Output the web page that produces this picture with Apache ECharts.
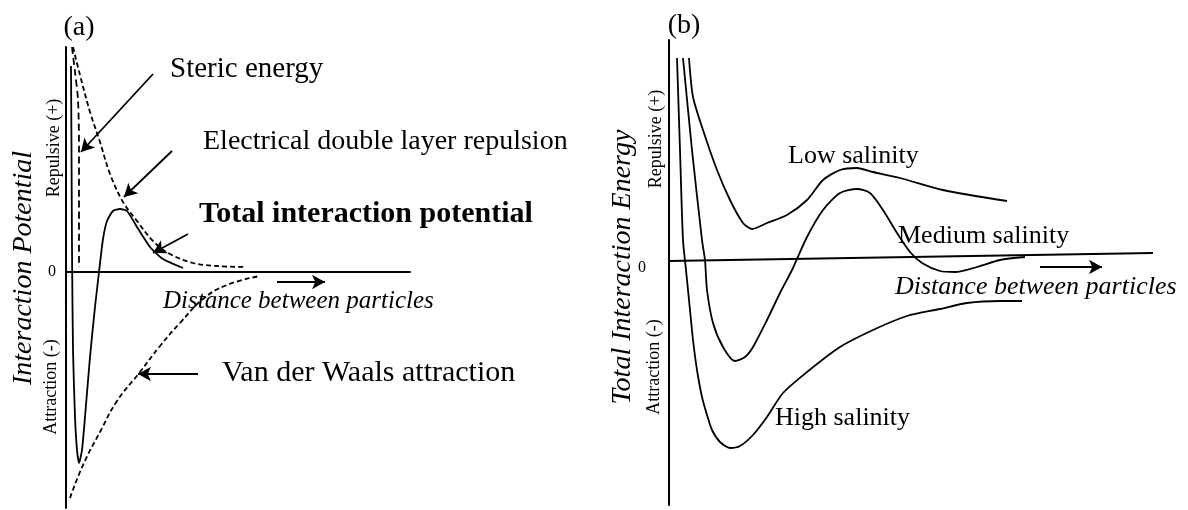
<!DOCTYPE html>
<html><head><meta charset="utf-8">
<script src="https://cdn.jsdelivr.net/npm/echarts@6/dist/echarts.min.js"></script>
<style>html,body{margin:0;padding:0;background:#fff}#c{width:1188px;height:510px}</style>
</head><body><div id="c"></div>
<script>
// ---------- Panel (a) data: [distance, potential] (arbitrary units) ----------
const totalA = [[5,206],[5.5,123],[6,23],[7,-78],[9,-145],[11,-178],[13,-191],[16,-178],[19,-145],[24,-85],[29,-35],[33,0],[37,33],[41,51],[47,61],[54,63],[61,61],[71,45],[84,25],[97,13],[117,4]];
const stericA = [[6,225],[9,200],[12,172],[13,122],[13,72],[13,5]];
const edlA = [[7,225],[14,197],[24,160],[34,130],[44,98],[57,70],[71,51],[87,31],[104,18],[127,9],[151,6],[179,5]];
const vdwA = [[4,-226],[17,-193],[34,-160],[51,-129],[74,-100],[94,-74],[114,-51],[137,-27],[161,-13],[194,-4]];
// annotation arrows (from -> to) in panel (a) data units
const arrowsA = [
  [[87,198],[15,120]],   // Steric energy
  [[106,121],[58,75]],   // Electrical double layer repulsion
  [[122,38],[87,19]],    // Total interaction potential
  [[132,-102],[72,-102]],// Van der Waals attraction
  [[211,-10],[259,-10]]  // distance direction
];
const xRangeA = [0, 344];
const yRangeA = [-236, 225];

// ---------- Panel (b) data ----------
const lowB = [[20,203],[24,164],[34,131],[48,91],[61,61],[74,38],[83,32],[98,38],[118,46],[138,61],[154,81],[171,91],[188,93],[204,89],[231,83],[274,71],[338,60]];
const mediumB = [[14,203],[23,111],[33,21],[36,1],[38,-29],[44,-62],[54,-86],[66,-100],[76,-96],[84,-86],[98,-59],[111,-32],[123,-9],[138,24],[154,51],[171,68],[188,72],[201,68],[214,51],[228,28],[241,9],[253,-2],[271,-10],[286,-11],[308,-6],[331,1],[356,4]];
const highB = [[8,203],[11,111],[14,21],[17,-9],[21,-49],[24,-79],[28,-109],[33,-136],[38,-154],[43,-169],[51,-181],[61,-187],[71,-185],[84,-174],[98,-156],[114,-132],[138,-111],[171,-86],[204,-69],[238,-55],[271,-48],[298,-42],[331,-40],[353,-40]];
const zeroLineB = [[0,0],[484,8]];
const arrowsB = [[[371,-6],[433,-6]]];
const xRangeB = [0, 484];
const yRangeB = [-244, 221];

// ---------- Texts ----------
const panelLabels = ['(a)', '(b)'];
const textsA = ['Steric energy', 'Electrical double layer repulsion', 'Total interaction potential', 'Distance between particles', 'Van der Waals attraction'];
const textsB = ['Low salinity', 'Medium salinity', 'Distance between particles', 'High salinity'];
const axisTextsA = ['Interaction Potential', 'Repulsive (+)', 'Attraction (-)', '0'];
const axisTextsB = ['Total Interaction Energy', 'Repulsive (+)', 'Attraction (-)', '0'];

const SERIF = '"Liberation Serif","Times New Roman",serif';
const chart = echarts.init(document.getElementById('c'), null, {renderer: 'canvas'});

function lineSeries(data, gi, dashed, extra) {
  return Object.assign({
    type: 'line', xAxisIndex: gi, yAxisIndex: gi, data: data,
    smooth: 0.25, symbol: 'none', silent: true, animation: false,
    lineStyle: {color: '#000', width: 1.8, type: dashed ? [5, 3] : 'solid'}
  }, extra || {});
}
function arrowMark(list) {
  return {
    silent: true, animation: false, symbol: ['none', 'arrow'], symbolSize: [11, 13],
    label: {show: false}, emphasis: {disabled: true},
    lineStyle: {color: '#000', width: 1.8, type: 'solid'},
    data: list.map(a => [{coord: a[0]}, {coord: a[1]}])
  };
}
function txt(text, x, y, size, opts) {
  opts = opts || {};
  return {
    type: 'text', x: x, y: y, rotation: opts.rot || 0, silent: true,
    style: {
      text: text, fill: '#000',
      font: (opts.italic ? 'italic ' : '') + (opts.bold ? 'bold ' : '') + size + 'px ' + SERIF,
      textAlign: opts.align || 'left', textVerticalAlign: 'middle',
      align: opts.align || 'left', verticalAlign: 'middle'
    }
  };
}

const hiddenAxis = {axisTick: {show: false}, axisLabel: {show: false}, splitLine: {show: false}};

const option = {
  animation: false,
  backgroundColor: '#fff',
  grid: [
    {left: 66, top: 47, width: 344, height: 461},
    {left: 669, top: 40, width: 484, height: 465}
  ],
  xAxis: [
    Object.assign({type: 'value', gridIndex: 0, min: xRangeA[0], max: xRangeA[1],
      axisLine: {show: true, onZero: true, lineStyle: {color: '#000', width: 2}}}, hiddenAxis),
    Object.assign({type: 'value', gridIndex: 1, min: xRangeB[0], max: xRangeB[1],
      axisLine: {show: false}}, hiddenAxis)
  ],
  yAxis: [
    Object.assign({type: 'value', gridIndex: 0, min: yRangeA[0], max: yRangeA[1],
      axisLine: {show: true, onZero: false, lineStyle: {color: '#000', width: 2}}}, hiddenAxis),
    Object.assign({type: 'value', gridIndex: 1, min: yRangeB[0], max: yRangeB[1],
      axisLine: {show: true, onZero: false, lineStyle: {color: '#000', width: 2}}}, hiddenAxis)
  ],
  series: [
    lineSeries(totalA, 0, false, {smooth: 0.2, markLine: arrowMark(arrowsA)}),
    lineSeries(stericA, 0, true, {smooth: 0.3, lineStyle: {color: '#000', width: 1.8, type: [7, 4]}}),
    lineSeries(edlA, 0, true, {smooth: 0.35}),
    lineSeries(vdwA, 0, true, {smooth: 0.45}),
    lineSeries(zeroLineB, 1, false, {smooth: false, lineStyle: {color: '#000', width: 2}, markLine: arrowMark(arrowsB)}),
    lineSeries(lowB, 1, false),
    lineSeries(mediumB, 1, false),
    lineSeries(highB, 1, false)
  ],
  graphic: [
    txt(panelLabels[0], 79, 28, 28, {align: 'center'}),
    txt(panelLabels[1], 684, 26, 28, {align: 'center'}),
    txt(textsA[0], 170, 69, 29),
    txt(textsA[1], 203, 142, 28),
    txt(textsA[2], 199, 214, 30, {bold: true}),
    txt(textsA[3], 163, 301, 25, {italic: true}),
    txt(textsA[4], 222, 373, 30),
    txt(axisTextsA[0], 24, 268, 28, {italic: true, align: 'center', rot: Math.PI / 2}),
    txt(axisTextsA[1], 54, 148, 18, {align: 'center', rot: Math.PI / 2}),
    txt(axisTextsA[2], 51, 387, 18, {align: 'center', rot: Math.PI / 2}),
    txt(axisTextsA[3], 52, 272, 16, {align: 'center'}),
    txt(textsB[0], 788, 156, 26),
    txt(textsB[1], 898, 236, 26),
    txt(textsB[2], 895, 287, 26, {italic: true}),
    txt(textsB[3], 775, 418, 26),
    txt(axisTextsB[0], 623, 267, 28, {italic: true, align: 'center', rot: Math.PI / 2}),
    txt(axisTextsB[1], 656, 139, 18, {align: 'center', rot: Math.PI / 2}),
    txt(axisTextsB[2], 654, 367, 18, {align: 'center', rot: Math.PI / 2}),
    txt(axisTextsB[3], 642, 268, 16, {align: 'center'})
  ]
};
chart.setOption(option);
</script>
</body></html>
